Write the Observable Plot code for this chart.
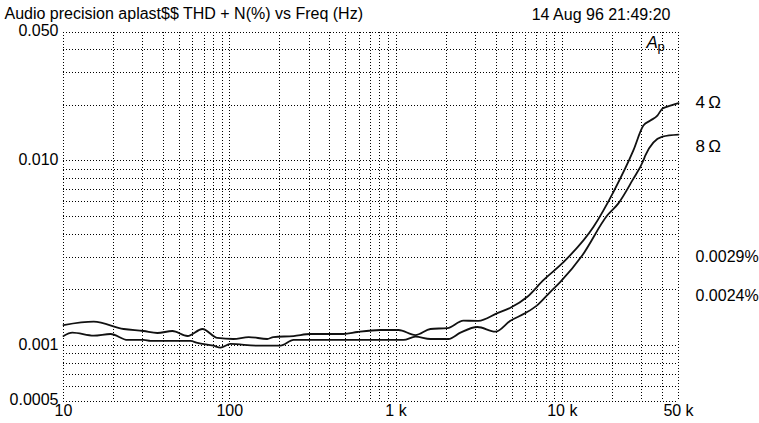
<!DOCTYPE html>
<html>
<head>
<meta charset="utf-8">
<script src="https://cdn.jsdelivr.net/npm/d3@7"></script>
<script src="https://cdn.jsdelivr.net/npm/@observablehq/plot@0.6"></script>
<style>
  html, body { margin: 0; padding: 0; background: #fff; }
</style>
</head>
<body>
<div id="chart"></div>
<script>
// ---- data ----
const freq4 = [10, 15.2, 23, 30.3, 36.7, 45.2, 55.7, 68.5, 84.3, 105, 130, 168, 183, 242, 306, 483, 586, 806, 1034, 1308, 1610, 2038, 2543, 3130, 4072, 4875, 6168, 7697, 10014, 15382, 20290, 26760, 30740, 33870, 37320, 39990, 42860, 50000];
const thd4  = [0.00129, 0.001345, 0.001228, 0.001198, 0.001168, 0.001198, 0.001125, 0.001228, 0.001098, 0.001084, 0.001111, 0.001084, 0.001111, 0.001125, 0.001154, 0.001154, 0.001183, 0.001213, 0.001213, 0.001139, 0.001228, 0.001243, 0.001362, 0.00136, 0.001498, 0.0016, 0.001836, 0.002259, 0.002791, 0.004387, 0.006782, 0.0114, 0.01555, 0.01655, 0.01762, 0.01922, 0.01971, 0.0206];

const freq8 = [10, 11.3, 15.2, 19.2, 24.3, 30.3, 33.4, 58, 63.9, 79.8, 87.9, 101, 147, 202, 242, 806, 1108, 1308, 1610, 2066, 2440, 3087, 3960, 4875, 6000, 7085, 8482, 9741, 13210, 18670, 21750, 26400, 30740, 31600, 39990, 50000];
const thd8  = [0.001125, 0.001173, 0.00113, 0.001154, 0.001071, 0.001071, 0.001058, 0.001058, 0.001032, 0.000997, 0.000973, 0.001019, 0.000997, 0.000997, 0.001071, 0.001071, 0.001071, 0.001116, 0.001084, 0.001084, 0.001173, 0.001259, 0.001187, 0.001362, 0.001498, 0.001655, 0.001953, 0.002212, 0.003084, 0.005075, 0.005891, 0.007844, 0.01006, 0.01071, 0.01356, 0.0139];

const xTicks = [10, 100, 1000, 10000, 50000];
const xTickLabels = ["10", "100", "1 k", "10 k", "50 k"];
const yTicks = [0.0005, 0.001, 0.01, 0.05];
const yTickLabels = ["0.0005", "0.001", "0.010", "0.050"];

const xGrid = [10, 20, 30, 40, 50, 60, 70, 80, 90,
  100, 200, 300, 400, 500, 600, 700, 800, 900,
  1000, 2000, 3000, 4000, 5000, 6000, 7000, 8000, 9000,
  10000, 20000, 30000, 40000, 50000];
const yGrid = [0.0005, 0.0006, 0.0007, 0.0008, 0.0009,
  0.001, 0.002, 0.003, 0.004, 0.005, 0.006, 0.007, 0.008, 0.009,
  0.01, 0.02, 0.03, 0.04, 0.05];

const titleText = "Audio precision aplast$$ THD + N(%) vs Freq (Hz)";
const dateText = "14 Aug 96 21:49:20";
const seriesLabels = ["4\u2009Ω", "8\u2009Ω"];
const noteLabels = ["0.0029%", "0.0024%"];

// ---- build ----
const rows4 = freq4.map((f, i) => ({f, v: thd4[i]}));
const rows8 = freq8.map((f, i) => ({f, v: thd8[i]}));

const gridStyle = {stroke: "#000", strokeWidth: 1, strokeDasharray: "1,2", shapeRendering: "crispEdges"};

const chart = Plot.plot({
  width: 759,
  height: 423,
  marginLeft: 63,
  marginRight: 81,
  marginTop: 31.5,
  marginBottom: 22.5,
  style: {fontFamily: "'Liberation Sans', Arial, sans-serif", fontSize: "16px", background: "#fff", color: "#000"},
  x: {type: "log", domain: [10, 50000], axis: null},
  y: {type: "log", domain: [0.0005, 0.05], axis: null},
  marks: [
    Plot.ruleX(xGrid, {x: d => d, ...gridStyle}),
    Plot.ruleY(yGrid, {y: d => d, ...gridStyle}),
    Plot.text(xTicks, {x: d => d, text: d => xTickLabels[xTicks.indexOf(d)], frameAnchor: "bottom", lineAnchor: "top", dy: 4, fontSize: 16}),
    Plot.text(yTicks, {y: d => d, text: d => yTickLabels[yTicks.indexOf(d)], frameAnchor: "left", textAnchor: "end", dx: -5, dy: -1, fontSize: 16}),
    Plot.line(rows4, {x: "f", y: "v", stroke: "#111", strokeWidth: 1.8, curve: "monotone-x"}),
    Plot.line(rows8, {x: "f", y: "v", stroke: "#111", strokeWidth: 1.8, curve: "monotone-x"}),
    Plot.text([titleText], {text: d => d, frameAnchor: "top-left", textAnchor: "start", lineAnchor: "middle", dx: -59, dy: -18, fontSize: 16}),
    Plot.text([dateText], {text: d => d, frameAnchor: "top-right", textAnchor: "end", lineAnchor: "middle", dx: -8, dy: -17, fontSize: 16}),
    Plot.text(["A"], {text: d => d, frameAnchor: "top-right", textAnchor: "start", lineAnchor: "middle", dx: -32, dy: 11, fontSize: 17, fontStyle: "italic"}),
    Plot.text(["p"], {text: d => d, frameAnchor: "top-right", textAnchor: "start", lineAnchor: "middle", dx: -21, dy: 15, fontSize: 13}),
    Plot.text([seriesLabels[0]], {text: d => d, frameAnchor: "top-right", textAnchor: "start", lineAnchor: "middle", dx: 17, dy: 70.5, fontSize: 17}),
    Plot.text([seriesLabels[1]], {text: d => d, frameAnchor: "top-right", textAnchor: "start", lineAnchor: "middle", dx: 17, dy: 114.5, fontSize: 17}),
    Plot.text([noteLabels[0]], {text: d => d, frameAnchor: "top-right", textAnchor: "start", lineAnchor: "middle", dx: 17, dy: 224.5, fontSize: 16}),
    Plot.text([noteLabels[1]], {text: d => d, frameAnchor: "top-right", textAnchor: "start", lineAnchor: "middle", dx: 17, dy: 263.5, fontSize: 16})
  ]
});
document.getElementById("chart").appendChild(chart);
</script>
</body>
</html>
